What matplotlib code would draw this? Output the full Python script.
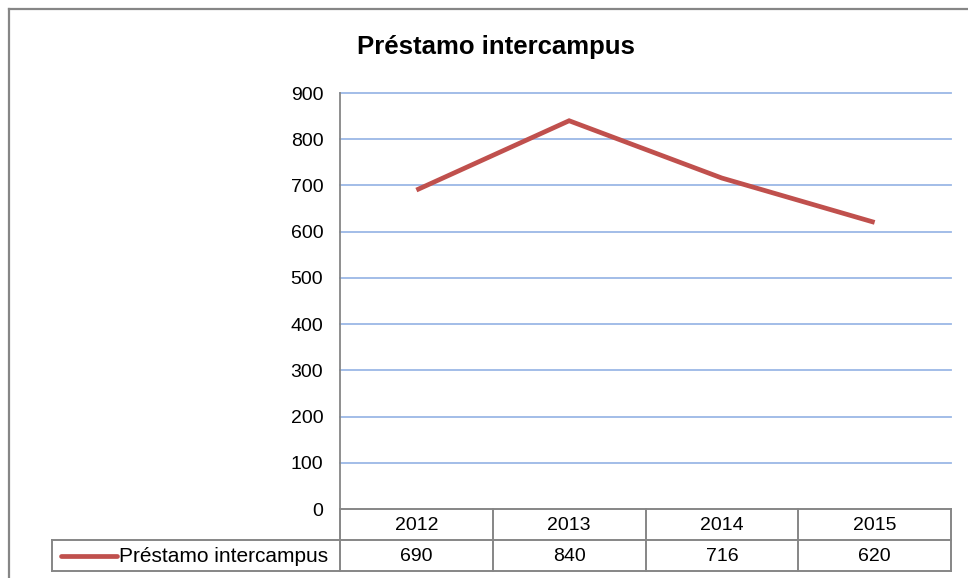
import matplotlib
matplotlib.use("Agg")
import matplotlib.pyplot as plt
from matplotlib.lines import Line2D
from matplotlib.transforms import blended_transform_factory

plt.rcParams['font.family'] = ['Liberation Sans', 'DejaVu Sans']

title = "Préstamo intercampus"
series_name = "Préstamo intercampus"
years = ["2012", "2013", "2014", "2015"]
values = [690, 840, 716, 620]
yticks = [0, 100, 200, 300, 400, 500, 600, 700, 800, 900]

W, H = 968, 578
fig = plt.figure(figsize=(W / 100, H / 100), dpi=100)

def fx(px):
    return px / W

def fy(py):
    return 1 - py / H

# axes region (pixels)
L, R, T, B = 340, 951, 93, 509
ax = fig.add_axes([fx(L), fy(B), fx(R) - fx(L), fy(T) - fy(B)])

xs = [i + 0.5 for i in range(len(years))]
ax.plot(xs, values, color='#C0504D', lw=3.4, solid_capstyle='butt', solid_joinstyle='miter', zorder=3)
ax.set_xlim(0, len(years))
ax.set_ylim(0, 900)
ax.set_yticks(yticks)
ax.set_yticklabels([str(v) for v in yticks], fontsize=14)
ax.tick_params(axis='y', length=0, pad=12)
ax.set_xticks([])
for v in yticks[1:]:
    ax.axhline(v, color='#9BB8E6', lw=1.3, zorder=1, clip_on=False)
for s in ['top', 'right', 'bottom']:
    ax.spines[s].set_visible(False)
ax.spines['left'].set_color('#868686')
ax.spines['left'].set_linewidth(1.3)

fig.text(fx(496), fy(47), title, fontsize=18.5, fontweight='bold', ha='center', va='center')

# data table below the axes
gray = '#868686'
row1, row2, row3 = 509, 540, 571
tleft = 52

def hline(x0, x1, y):
    fig.add_artist(Line2D([fx(x0), fx(x1)], [fy(y), fy(y)], color=gray, lw=1.4, transform=fig.transFigure))

def vline(x, y0, y1):
    fig.add_artist(Line2D([fx(x), fx(x)], [fy(y0), fy(y1)], color=gray, lw=1.4, transform=fig.transFigure))

hline(L, R, row1)
hline(tleft, R, row2)
hline(tleft, R, row3)
vline(tleft, row2, row3)
trans = blended_transform_factory(ax.transData, fig.transFigure)
for i in range(len(years) + 1):
    fig.add_artist(Line2D([i, i], [fy(row1), fy(row3)], color=gray, lw=1.4, transform=trans))

for x, yr, v in zip(xs, years, values):
    fig.text(x, fy((row1 + row2) / 2 + 1), yr, transform=trans, ha='center', va='center', fontsize=14)
    fig.text(x, fy((row2 + row3) / 2 + 1), str(v), transform=trans, ha='center', va='center', fontsize=14)

# legend key in table
fig.add_artist(Line2D([fx(61), fx(117)], [fy(556), fy(556)], color='#C0504D', lw=3.4, solid_capstyle='round', transform=fig.transFigure))
fig.text(fx(119), fy(557), series_name, ha='left', va='center', fontsize=15)

# outer chart border
fig.add_artist(Line2D([fx(9), fx(9)], [fy(9), 0], color=gray, lw=1.6, transform=fig.transFigure))
fig.add_artist(Line2D([fx(9), 1], [fy(9), fy(9)], color=gray, lw=1.6, transform=fig.transFigure))

fig.savefig("out.png", dpi=100)
